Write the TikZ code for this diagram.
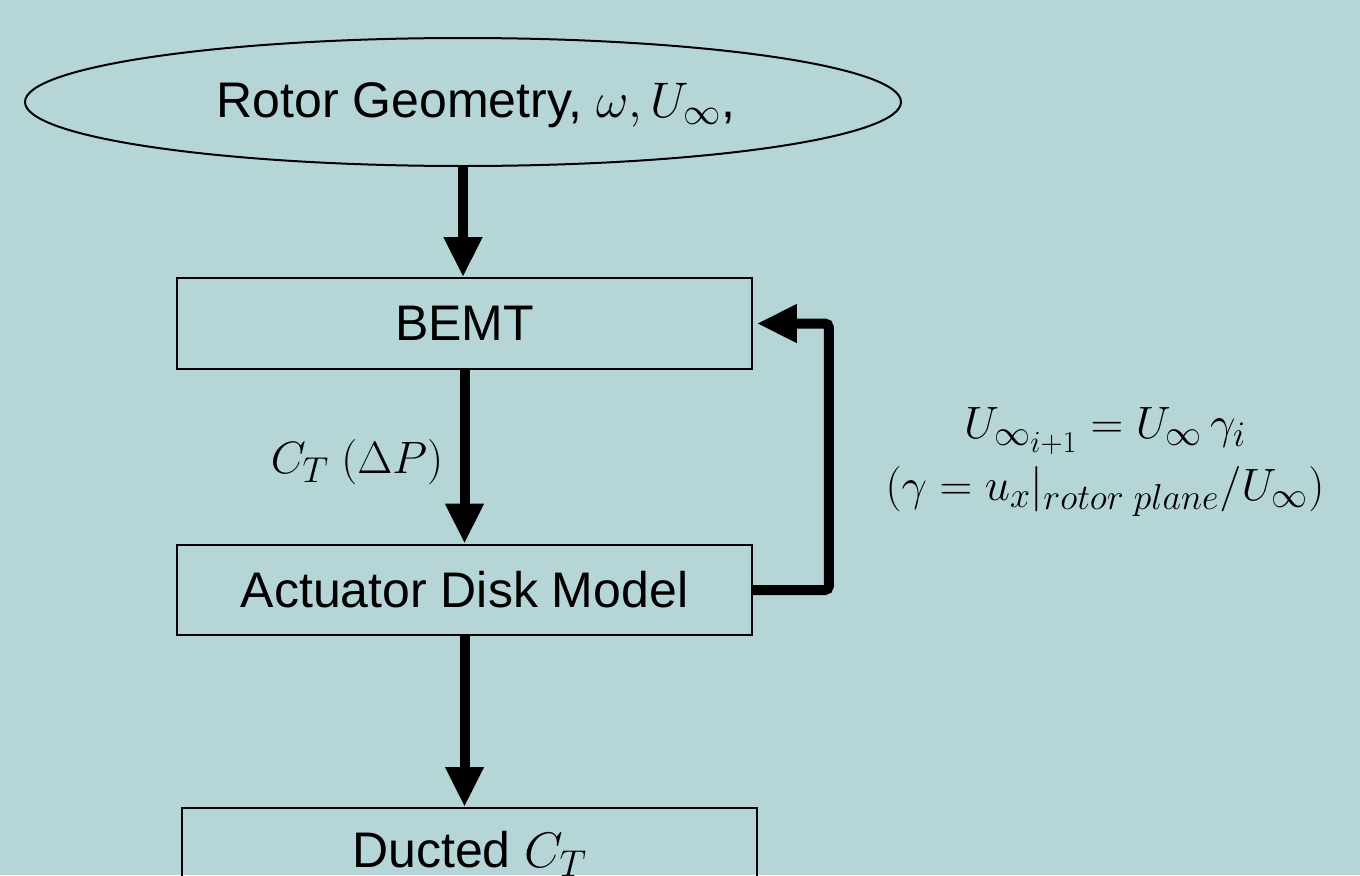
\RequirePackage{fix-cm}
\documentclass[tikz,border=0pt]{standalone}
\usepackage[no-math]{fontspec}
\setmainfont{Liberation Sans}
\usetikzlibrary{arrows.meta,shapes.geometric}
\DeclareMathSizes{34}{34}{27}{23}
\DeclareMathSizes{37.5}{37.5}{28}{22}
\definecolor{bgc}{HTML}{B5D5D7}
\tikzset{
  box/.style={draw=black, line width=1.5pt, minimum width=431pt, minimum height=68pt, inner sep=0pt, font=\fontsize{37.5}{44}\selectfont},
  flow/.style={line width=7.5pt, -{Triangle[length=30pt,width=27pt]}},
  mathlbl/.style={font=\fontsize{34}{46.5}\selectfont, align=center, inner sep=0pt}
}
\begin{document}
\begin{tikzpicture}[x=0.75pt,y=-0.75pt]
\fill[bgc] (0,0) rectangle (1360,875);
\useasboundingbox (0,0) rectangle (1360,875);
\clip (0,0) rectangle (1360,875);
\node[ellipse, draw=black, line width=1.5pt, minimum width=657pt, minimum height=96pt, inner sep=0pt] (geo) at (463,102) {};
\node[font=\fontsize{37.5}{44}\selectfont, inner sep=0pt] (geotxt) at (476,105) {Rotor Geometry, $\omega, U_\infty$,};
\node[box] (bemt) at (464.5,323.5) {BEMT};
\node[box] (act) at (464.5,590) {Actuator Disk Model};
\node[box, minimum height=69pt] (duct) at (469.5,854) {Ducted $C_T$};
\draw[flow] (geo.south) -- (geo.south |- bemt.north);
\draw[flow] (bemt.south) -- (act.north);
\draw[flow] (act.south) -- (act.south |- duct.north);
\draw[line width=7.5pt, rounded corners=3pt, -{Triangle[length=30pt,width=27pt]}, shorten >=3pt] (act.east) -- ++(76,0) |- (bemt.east);
\node[mathlbl] (ct) at (357,462) {$C_T\ (\Delta P)$};
\node[mathlbl] (upd) at (1105,462) {$U_{\infty_{i+1}} = U_\infty\,\gamma_i$\\ $(\gamma = u_x|_{rotor\;plane}/U_\infty)$};
\end{tikzpicture}
\end{document}
